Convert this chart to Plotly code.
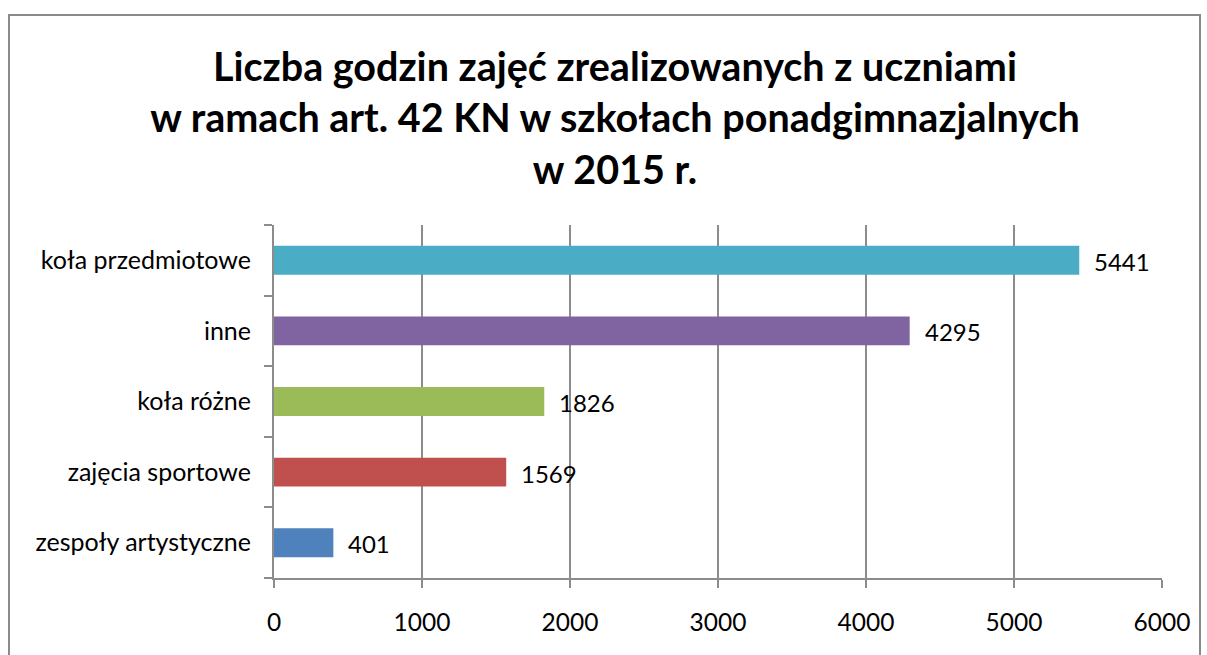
import plotly.graph_objects as go

categories = ["zespoły artystyczne", "zajęcia sportowe", "koła różne", "inne", "koła przedmiotowe"]
values = [401, 1569, 1826, 4295, 5441]
colors = ["#4F81BD", "#C0504D", "#9BBB59", "#8064A2", "#4BACC6"]
x_ticks = [0, 1000, 2000, 3000, 4000, 5000, 6000]

W, H = 1207, 655
L, R, T, B = 274, 45, 225, 77
pw, ph = W - L - R, H - T - B
FONT = "Lato, Open Sans, sans-serif"

fig = go.Figure()
fig.add_trace(go.Bar(
    y=categories, x=values, orientation="h",
    marker=dict(color=colors, line=dict(width=0)),
    width=0.41, hoverinfo="x+y",
))
for c, v in zip(categories, values):
    fig.add_annotation(x=v, y=c, text=str(v), showarrow=False, xanchor="left",
                       xshift=13, yshift=-1, font=dict(family=FONT, size=24, color="#000"))

fig.update_layout(
    width=W, height=H,
    margin=dict(l=L, r=R, t=T, b=B, autoexpand=False),
    paper_bgcolor="white", plot_bgcolor="white",
    showlegend=False,
    font=dict(family=FONT, color="#000"),
    title=dict(
        text="<b>Liczba godzin zajęć zrealizowanych z uczniami<br>w ramach art. 42 KN w szkołach ponadgimnazjalnych<br>w 2015 r.</b>",
        x=615 / W, xanchor="center", y=1 - 81 / H, yanchor="middle",
        font=dict(family=FONT, size=39.5, color="#000"),
    ),
    xaxis=dict(
        range=[0, 6000], tickvals=x_ticks, ticktext=[str(t) for t in x_ticks],
        showgrid=True, gridcolor="#8c8c8c", gridwidth=1.5,
        showline=True, linecolor="#8c8c8c", linewidth=2,
        ticks="outside", ticklen=8, tickcolor="#8c8c8c", tickwidth=1.5,
        tickfont=dict(size=24.5), ticklabelstandoff=14,
        zeroline=False, fixedrange=True, automargin=False,
    ),
    yaxis=dict(
        categoryorder="array", categoryarray=categories,
        showline=True, linecolor="#8c8c8c", linewidth=2,
        ticks="outside", tickson="boundaries", ticklen=8, tickcolor="#8c8c8c", tickwidth=1.5,
        tickfont=dict(size=25), ticklabelstandoff=16,
        showgrid=False, fixedrange=True, automargin=False,
    ),
    shapes=[dict(
        type="rect", xref="paper", yref="paper",
        x0=(9 - L) / pw, x1=(1200 - L) / pw,
        y0=(H - T - 700) / ph, y1=(H - B - 15) / ph,
        line=dict(color="#8a8a8a", width=2), fillcolor="rgba(0,0,0,0)", layer="below",
    )],
)

fig.write_html("out.html", config={"displayModeBar": False},
               post_script="document.body.style.margin='0';document.body.style.overflow='hidden';")
